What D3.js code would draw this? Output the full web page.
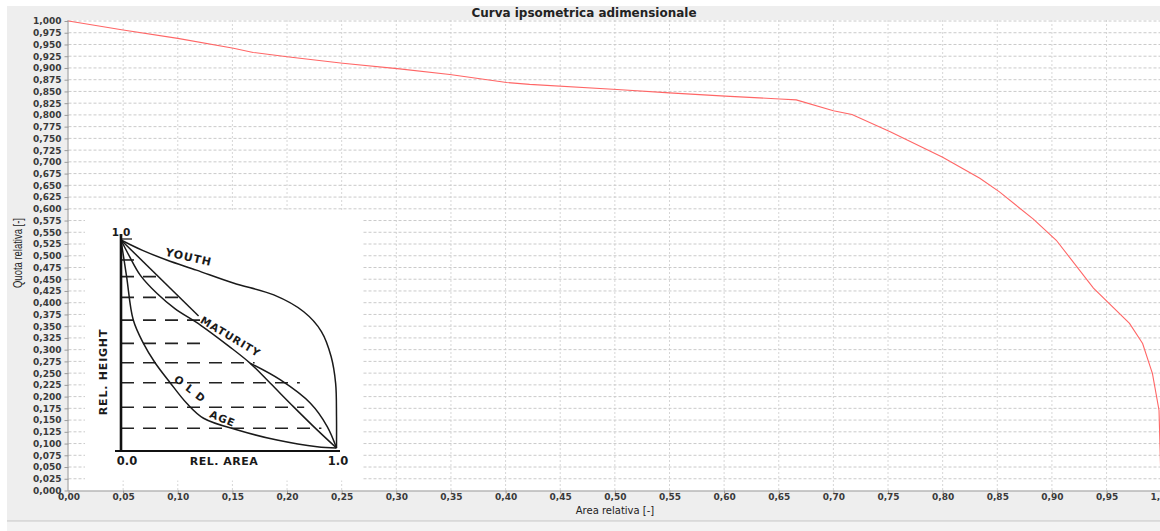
<!DOCTYPE html>
<html>
<head>
<meta charset="utf-8">
<script src="https://cdn.jsdelivr.net/npm/d3@7"></script>
<style>
  body { margin: 0; background: #fff; }
  svg { display: block; }
  .tick text { font-family: 'DejaVu Sans', sans-serif; font-size: 9px; font-weight: bold; fill: #3a3a3a; }
  .tick line { stroke: #9a9a9a; }
  .domain { stroke: #9a9a9a; }
  .inset text { font-family: 'DejaVu Sans', sans-serif; font-weight: bold; fill: #1a1a1a; }
</style>
</head>
<body>
<svg id="graph" width="1160" height="531"></svg>
<script>
// hypsometric curve
const areaRel = [0, 0.05, 0.10, 0.151, 0.169, 0.20, 0.251, 0.303, 0.349, 0.401, 0.422, 0.502, 0.55, 0.601,
  0.651, 0.666, 0.70, 0.717, 0.752, 0.80, 0.834, 0.852, 0.883, 0.904, 0.938, 0.971, 0.983, 0.992, 0.998, 1.0];
const quotaRel = [1.0, 0.981, 0.963, 0.942, 0.933, 0.924, 0.910, 0.898, 0.886, 0.869, 0.865, 0.854, 0.847, 0.840,
  0.834, 0.832, 0.809, 0.801, 0.764, 0.710, 0.665, 0.636, 0.578, 0.533, 0.431, 0.356, 0.313, 0.249, 0.171, 0.0];

const xTicks = d3.range(0, 21).map((i) => i * 0.05);
const yTicks = d3.range(0, 41).map((i) => i * 0.025);

// the pasted Strahler sketch (relative area, relative height)
const youth = [[0, 1], [0.1, 0.95], [0.212, 0.904], [0.35, 0.855], [0.521, 0.793], [0.709, 0.736], [0.848, 0.655],
  [0.93, 0.56], [0.975, 0.44], [0.996, 0.311], [1.0, 0.15], [1.0, 0]];
const maturityTop = [[0, 1], [0.36, 0.635]];
const maturityEnd = [[0.6, 0.407], [0.74, 0.327], [0.879, 0.215], [0.957, 0.103], [1, 0]];
const maturityLow = [[0, 1], [0.04, 0.92], [0.09, 0.83], [0.17, 0.74], [0.25, 0.67], [0.37, 0.59], [0.5, 0.49],
  [0.6, 0.407], [0.693, 0.311], [0.8, 0.199], [0.91, 0.087], [1, 0]];
const oldAge = [[0, 1], [0.026, 0.824], [0.057, 0.615], [0.104, 0.503], [0.158, 0.41], [0.228, 0.314],
  [0.305, 0.215], [0.383, 0.143], [0.553, 0.083], [0.724, 0.038], [0.91, 0.006], [1, 0]];
const levelHeights = [0.904, 0.824, 0.724, 0.615, 0.503, 0.41, 0.314, 0.196, 0.095];
const levelEnds = [0.07, 0.2, 0.3, 0.37, 0.39, 0.62, 0.83, 0.85, 0.93];
const insetLabels = [
  { text: 'YOUTH', x: 0.31, y: 0.9, angle: 13, size: 11 },
  { text: 'MATURITY', x: 0.5, y: 0.52, angle: 31, size: 10.5 },
  { text: 'O L D', x: 0.31, y: 0.27, angle: 38, size: 10.5 },
  { text: 'AGE', x: 0.465, y: 0.125, angle: 22, size: 10.5 },
];

const itLocale = d3.formatLocale({ decimal: ',', thousands: '.', grouping: [3], currency: ['', '€'] });

function setupGraph() {
  const svg = d3.select('#graph');
  const xScale = d3.scaleLinear().domain([0, 1]).range([68.5, 1161.2]);
  const yScale = d3.scaleLinear().domain([0, 1]).range([490.5, 21]);

  // window chrome
  svg.append('rect').attr('x', 7).attr('y', 6).attr('width', 1153).attr('height', 515).attr('fill', '#eeeeee');
  svg.append('rect').attr('x', 7).attr('y', 521.5).attr('width', 1153).attr('height', 10).attr('fill', '#f3f3f3');
  svg.append('line').attr('x1', 7).attr('x2', 1160).attr('y1', 521).attr('y2', 521).attr('stroke', '#c4c4c4');
  svg.append('rect').attr('x', 68.5).attr('y', 20).attr('width', 1093).attr('height', 470.5).attr('fill', '#fff');

  const grid = svg.append('g');
  grid.selectAll('.vg').data(xTicks.slice(1)).enter().append('line')
    .attr('x1', (d) => xScale(d)).attr('x2', (d) => xScale(d))
    .attr('y1', yScale(1) - 1).attr('y2', yScale(0))
    .attr('stroke', '#d6d6d6').attr('stroke-dasharray', '2,2');
  grid.selectAll('.hg').data(yTicks.slice(1)).enter().append('line')
    .attr('x1', xScale(0)).attr('x2', xScale(1))
    .attr('y1', (d) => yScale(d)).attr('y2', (d) => yScale(d))
    .attr('stroke', '#cacaca').attr('stroke-dasharray', '3,2');

  const xAxis = d3.axisBottom(xScale).tickValues(xTicks).tickSize(3).tickPadding(0).tickFormat(itLocale.format('.2f'));
  const yAxis = d3.axisLeft(yScale).tickValues(yTicks).tickSize(4).tickPadding(3).tickFormat(itLocale.format('.3f'));
  svg.append('g').attr('transform', `translate(0,${yScale(0)})`).call(xAxis).call((g) => g.select('.domain').attr('d', 'M68.5,0.5H1161'));
  svg.append('g').attr('transform', `translate(${xScale(0)},0)`).call(yAxis).call((g) => g.select('.domain').attr('d', 'M-0.5,20V491'));

  const points = areaRel.map((a, i) => [a, quotaRel[i]]);
  const line = d3.line().x((d) => xScale(d[0])).y((d) => yScale(d[1]));
  svg.append('path').datum(points).attr('d', line)
    .attr('fill', 'none').attr('stroke', '#ff6666').attr('stroke-width', 1.1);

  svg.append('text').attr('x', 584).attr('y', 17)
    .attr('text-anchor', 'middle')
    .attr('font-family', 'DejaVu Sans, sans-serif').attr('font-weight', 'bold').attr('font-size', 11.5)
    .attr('textLength', 225).attr('lengthAdjust', 'spacingAndGlyphs')
    .attr('fill', '#222').text('Curva ipsometrica adimensionale');

  svg.append('text').attr('x', 615).attr('y', 514)
    .attr('text-anchor', 'middle')
    .attr('font-family', 'DejaVu Sans, sans-serif').attr('font-size', 10)
    .attr('fill', '#222').text('Area relativa [-]');

  svg.append('text').attr('transform', 'translate(22,253) rotate(-90)')
    .attr('text-anchor', 'middle')
    .attr('font-family', 'Liberation Sans, sans-serif').attr('font-size', 12)
    .attr('textLength', 70).attr('lengthAdjust', 'spacingAndGlyphs')
    .attr('fill', '#222').text('Quota relativa [-]');
}

function setupInset() {
  const svg = d3.select('#graph');
  const ix = d3.scaleLinear().domain([0, 1]).range([121, 336.5]);
  const iy = d3.scaleLinear().domain([0, 1]).range([448, 240]);
  const g = svg.append('g').attr('class', 'inset');
  const line = d3.line().x((d) => ix(d[0])).y((d) => iy(d[1])).curve(d3.curveCatmullRom);

  g.append('rect').attr('x', 85).attr('y', 210.5).attr('width', 277).attr('height', 270).attr('fill', '#fff');

  g.selectAll('.level').data(levelHeights).enter().append('line')
    .attr('x1', ix(0)).attr('x2', (d, i) => ix(levelEnds[i]))
    .attr('y1', (d) => iy(d)).attr('y2', (d) => iy(d))
    .attr('stroke', '#222').attr('stroke-width', 1.6).attr('stroke-dasharray', '13,9');

  [youth, maturityTop, maturityEnd, maturityLow, oldAge].forEach((curve) => {
    g.append('path').datum(curve).attr('d', line)
      .attr('fill', 'none').attr('stroke', '#1a1a1a').attr('stroke-width', 1.5);
  });

  g.append('line').attr('x1', 121).attr('x2', 121).attr('y1', 234).attr('y2', 452)
    .attr('stroke', '#111').attr('stroke-width', 2.6);
  g.append('line').attr('x1', 115).attr('x2', 340).attr('y1', 451).attr('y2', 451)
    .attr('stroke', '#111').attr('stroke-width', 2);
  g.append('line').attr('x1', 121).attr('x2', 132).attr('y1', 239).attr('y2', 239)
    .attr('stroke', '#111').attr('stroke-width', 1.2);

  g.selectAll('.lab').data(insetLabels).enter().append('text')
    .attr('transform', (d) => `translate(${ix(d.x)},${iy(d.y)}) rotate(${d.angle})`)
    .attr('text-anchor', 'middle').attr('font-size', (d) => d.size)
    .attr('letter-spacing', 1).text((d) => d.text);

  g.append('text').attr('x', 121).attr('y', 236).attr('text-anchor', 'middle').attr('font-size', 10.5).text('1.0');
  g.append('text').attr('x', 127).attr('y', 465).attr('text-anchor', 'middle').attr('font-size', 11.5).text('0.0');
  g.append('text').attr('x', 338).attr('y', 465).attr('text-anchor', 'middle').attr('font-size', 11.5).text('1.0');
  g.append('text').attr('x', 224).attr('y', 465).attr('text-anchor', 'middle').attr('font-size', 11)
    .attr('letter-spacing', 0.5).text('REL. AREA');
  g.append('text').attr('transform', 'translate(107,372) rotate(-90)').attr('text-anchor', 'middle')
    .attr('font-size', 11).attr('letter-spacing', 0.8).text('REL. HEIGHT');
}

setupGraph();
setupInset();
</script>
</body>
</html>
